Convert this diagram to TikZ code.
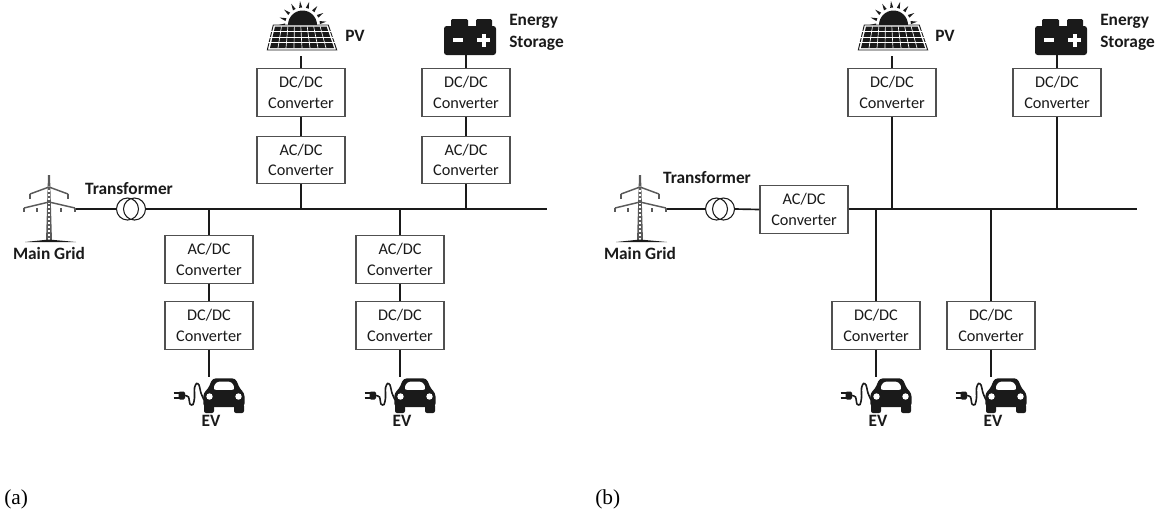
\documentclass[tikz,border=0pt]{standalone}
\usepackage{fontspec}
\setmainfont{Carlito}
\newfontfamily\capfont{Liberation Serif}
\definecolor{ink}{HTML}{1A1A1A}
\definecolor{boxline}{HTML}{505050}
\definecolor{mast}{HTML}{5A5A5A}
\tikzset{
  conv/.style={draw=boxline,line width=0.8pt,fill=white,minimum width=66pt,minimum height=35.5pt,inner sep=0pt,align=center,text=ink,font=\fontsize{12.2}{15.5}\selectfont},
  wire/.style={draw=ink,line width=1.25pt},
  bus/.style={draw=ink,line width=1.5pt},
  lab/.style={inner sep=0pt,text=ink,align=left,font=\fontsize{13}{16.5}\selectfont\bfseries},
  coil/.style={circle,draw=ink,line width=0.8pt,minimum size=16.5pt,inner sep=0pt},
  capt/.style={inner sep=0pt,text=black,font=\fontsize{16}{18}\capfont},
  towericon/.pic={
    \fill[mast] (-3,0) -- (-1,-66) -- (1,-66) -- (3,0) -- cycle;
    \foreach \yy in {-3,-7,...,-55} \fill[white] (-1.2,\yy) rectangle (1.2,\yy+2);
    \draw[mast,line width=1.1pt] (-19,-47) -- (0,-54) -- (19,-47);
    \draw[mast,line width=1.1pt] (-25,-33) -- (0,-39) -- (26,-33);
    \foreach \xx in {-19,19} \draw[mast,line width=1.1pt] (\xx,-47) -- (\xx,-42);
    \foreach \xx in {-25,-12,12,26} \draw[mast,line width=1.1pt] (\xx,-33) -- (\xx,-29);
    \fill[ink] (-24,1) -- (0,-1.5) -- (27,1) -- cycle;
  },
  pvicon/.pic={
    \fill[ink] (-13,-31) arc[start angle=180,end angle=360,radius=14.5] -- cycle;
    \foreach \aa in {8,30,52,74,96,118,140,162,180}
      \fill[ink] ([shift={(1.5,-31)}]-{\aa-5}:17.5) -- ([shift={(1.5,-31)}]-\aa:24) -- ([shift={(1.5,-31)}]-{\aa+5}:17.5) -- cycle;
    \draw[ink,line width=0.7pt,fill=white] (-27.7,-31) -- (27.3,-31) -- (35.7,-6) -- (-33.7,-6) -- cycle;
    \fill[ink] (-26,-29.5) -- (25.6,-29.5) -- (33,-8) -- (-31,-8) -- cycle;
    \foreach \tt in {0.125,0.25,...,0.9}
      \draw[white,line width=0.5pt] ({-26+51.6*\tt},-29.5) -- ({-31+64*\tt},-8);
    \foreach \rr in {-24.5,-19,-13.5}
      \draw[white,line width=0.5pt] (-33,\rr) -- (35,\rr);
  },
  baticon/.pic={
    \fill[ink,rounded corners=2pt] (-22,0) rectangle (30,-29);
    \fill[ink,rounded corners=1pt] (-15,-25) rectangle (2,-36);
    \fill[ink,rounded corners=1pt] (10,-25) rectangle (26,-36);
    \fill[white] (-13,-17) rectangle (-3,-13);
    \fill[white] (11,-17) rectangle (24,-13);
    \fill[white] (15.5,-21.5) rectangle (19.5,-8.5);
  },
  evicon/.pic={
    \fill[ink,rounded corners=2.5pt,even odd rule]
      (-5.7,27) -- (-5.7,13) -- (-1,9) -- (3.5,-1.7) -- (26.5,-1.7) -- (31,9) -- (35.5,13) -- (35.5,27) -- cycle
      (7,1.5) -- (23,1.5) -- (26.5,10) -- (3.5,10) -- cycle;
    \fill[ink,rounded corners=1.5pt] (-5,24) rectangle (5,33);
    \fill[ink,rounded corners=1.5pt] (25,24) rectangle (35,33);
    \fill[white] (0.5,16.5) circle (3.2);
    \fill[white] (29.5,16.5) circle (3.2);
    \draw[ink,line width=1.2pt] plot[smooth] coordinates {(-5,20) (-8,13) (-10,5) (-12.5,3.5) (-14.5,8) (-14.5,18) (-16,24.5) (-19,24) (-20.5,17) (-24,15.5)};
    \fill[ink,rounded corners=1pt] (-30.5,11.5) rectangle (-24,19.5);
    \draw[ink,line width=1.2pt] (-35.5,13) -- (-30,13) (-35.5,18) -- (-30,18);
  }
}
\begin{document}
\begin{tikzpicture}[x=0.75pt,y=-0.75pt]
\useasboundingbox (0,0) rectangle (1159,512);
% ---------- panel (a)
\node[conv] (a1) at (301,92.5) {DC/DC\\Converter};
\node[conv] (a2) at (301,160) {AC/DC\\Converter};
\node[conv] (a3) at (466,92.5) {DC/DC\\Converter};
\node[conv] (a4) at (466,160) {AC/DC\\Converter};
\node[conv] (a5) at (209,259.5) {AC/DC\\Converter};
\node[conv] (a6) at (209,325.5) {DC/DC\\Converter};
\node[conv] (a7) at (400,259.5) {AC/DC\\Converter};
\node[conv] (a8) at (400,325.5) {DC/DC\\Converter};
\node[coil] (at1) at (127.5,209) {};
\node[coil] (at2) at (134.5,209) {};
\coordinate (agrid) at (76,209);
\coordinate (aend) at (547,209);
\coordinate (apv) at (301,56);
\coordinate (abat) at (466,55);
\coordinate (aev1) at (209,377);
\coordinate (aev2) at (400,377);
\coordinate (aj1) at (209,209);
\coordinate (aj2) at (301,209);
\coordinate (aj3) at (400,209);
\coordinate (aj4) at (466,209);
\pic at (49,241) {towericon};
\pic at (301,56) {pvicon};
\pic at (466,55) {baticon};
\pic at (209,380) {evicon};
\pic at (400,380) {evicon};
\draw[wire] (agrid) -- (at1.west);
\draw[bus] (at2.east) -- (aend);
\draw[wire] (apv) -- (a1.north);
\draw[wire] (a1.south) -- (a2.north);
\draw[wire] (a2.south) -- (aj2);
\draw[wire] (abat) -- (a3.north);
\draw[wire] (a3.south) -- (a4.north);
\draw[wire] (a4.south) -- (aj4);
\draw[wire] (aj1) -- (a5.north);
\draw[wire] (a5.south) -- (a6.north);
\draw[wire] (a6.south) -- (aev1);
\draw[wire] (aj3) -- (a7.north);
\draw[wire] (a7.south) -- (a8.north);
\draw[wire] (a8.south) -- (aev2);
\node[lab] (al1) at (129,188.5) {Transformer};
\node[lab] (al2) at (49,253.5) {Main Grid};
\node[lab,anchor=west] (al3) at (345,36) {PV};
\node[lab,anchor=west] (al4) at (509,32.5) {Energy\\Storage};
\node[lab] (al5) at (211,421) {EV};
\node[lab] (al6) at (402,421) {EV};
\node[capt,anchor=west] (ca) at (4,499) {(a)};
% ---------- panel (b)
\node[conv] (b1) at (892,92.5) {DC/DC\\Converter};
\node[conv] (b2) at (1057,92.5) {DC/DC\\Converter};
\node[conv] (b3) at (804,209.5) {AC/DC\\Converter};
\node[conv] (b4) at (876,325.5) {DC/DC\\Converter};
\node[conv] (b5) at (991,325.5) {DC/DC\\Converter};
\node[coil] (bt1) at (716.5,209) {};
\node[coil] (bt2) at (723.5,209) {};
\coordinate (bgrid) at (667,209);
\coordinate (bend) at (1137,209);
\coordinate (bpv) at (892,56);
\coordinate (bbat) at (1057,55);
\coordinate (bev1) at (876,377);
\coordinate (bev2) at (991,377);
\coordinate (bj1) at (876,209);
\coordinate (bj2) at (892,209);
\coordinate (bj3) at (991,209);
\coordinate (bj4) at (1057,209);
\pic at (640,241) {towericon};
\pic at (892,56) {pvicon};
\pic at (1057,55) {baticon};
\pic at (876,380) {evicon};
\pic at (991,380) {evicon};
\draw[wire] (bgrid) -- (bt1.west);
\draw[wire] (bt2.east) -- (b3.west);
\draw[bus] (b3.east|-bend) -- (bend);
\draw[wire] (bpv) -- (b1.north);
\draw[wire] (b1.south) -- (bj2);
\draw[wire] (bbat) -- (b2.north);
\draw[wire] (b2.south) -- (bj4);
\draw[wire] (bj1) -- (b4.north);
\draw[wire] (b4.south) -- (bev1);
\draw[wire] (bj3) -- (b5.north);
\draw[wire] (b5.south) -- (bev2);
\node[lab] (bl1) at (707,178) {Transformer};
\node[lab] (bl2) at (640,253.5) {Main Grid};
\node[lab,anchor=west] (bl3) at (935,36) {PV};
\node[lab,anchor=west] (bl4) at (1100,32.5) {Energy\\Storage};
\node[lab] (bl5) at (878,421) {EV};
\node[lab] (bl6) at (993,421) {EV};
\node[capt,anchor=west] (cb) at (595,499) {(b)};
\end{tikzpicture}
\end{document}
